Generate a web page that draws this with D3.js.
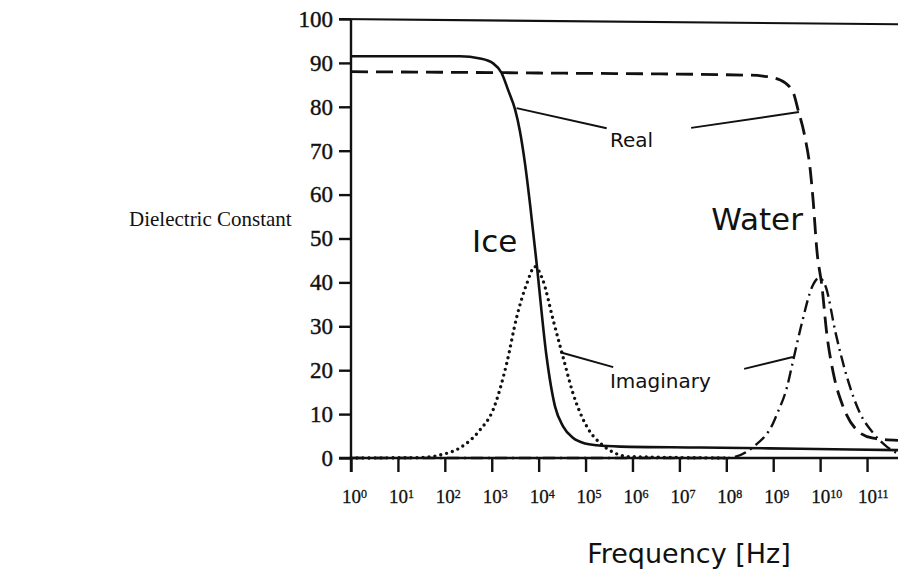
<!DOCTYPE html>
<html>
<head>
<meta charset="utf-8">
<style>
  body { margin: 0; background: #fff; }
  svg { display: block; }
</style>
</head>
<body>
<div id="chart"></div>
<script src="https://cdn.jsdelivr.net/npm/d3@7"></script>
<script>
// frequency given as log10(f) exponents, values are the dielectric constant
var iceRealExp   = [0, 2.32, 2.75, 3.03, 3.21, 3.35, 3.50, 3.60, 3.71, 3.82, 3.96, 4.17, 4.35, 4.52, 4.73, 4.99, 5.24, 5.74, 7.44, 9.57, 11.66]
var iceRealVal   = [91.5, 91.5, 91.0, 89.9, 87.7, 83.8, 79.3, 74.5, 67.0, 57.5, 44.0, 23.0, 11.7, 7.2, 4.6, 3.3, 2.9, 2.6, 2.4, 2.1, 1.8]

var iceImagExp   = [0, 1.5, 1.9, 2.32, 2.75, 3.03, 3.32, 3.53, 3.75, 3.92, 4.09, 4.31, 4.52, 4.73, 5.03, 5.31, 5.95, 8.0]
var iceImagVal   = [0, 0.1, 0.7, 2.3, 6.4, 11.0, 21.6, 32.0, 39.8, 43.6, 40.5, 31.4, 23.0, 14.8, 7.1, 3.4, 0.3, 0]

var waterRealExp = [0, 4.0, 8.5, 8.78, 9.15, 9.42, 9.53, 9.68, 9.79, 9.85, 9.93, 10.04, 10.14, 10.28, 10.49, 10.78, 11.13, 11.66]
var waterRealVal = [88.0, 87.7, 87.2, 87.0, 86.1, 83.4, 79.3, 72.9, 65.6, 58.8, 47.4, 39.0, 28.5, 19.4, 11.7, 6.4, 4.5, 4.0]

var waterImagExp = [0, 8.01, 8.57, 9.0, 9.08, 9.29, 9.42, 9.61, 9.83, 9.98, 10.12, 10.33, 10.57, 10.85, 11.13, 11.42, 11.66]
var waterImagVal = [0, 0, 2.5, 8.0, 10.0, 16.0, 22.0, 30.7, 39.0, 41.0, 39.0, 28.5, 18.5, 10.2, 5.7, 2.6, 1.0]

var xTickExp = [0, 1, 2, 3, 4, 5, 6, 7, 8, 9, 10, 11]
var yTicks   = [0, 10, 20, 30, 40, 50, 60, 70, 80, 90, 100]

// label leader lines: [exp, value] pairs
var leaders = [
  [[3.53, 79.7], [5.45, 75.1]],
  [[7.25, 75.2], [9.55, 78.8]],
  [[4.46, 24.1], [5.59, 20.7]],
  [[8.38, 20.3], [9.42, 23.0]]
]

var notes = [
  {text: "Real",      exp: 5.52, val: 70.8, size: 20},
  {text: "Imaginary", exp: 5.52, val: 16.0, size: 20},
  {text: "Ice",       exp: 2.58, val: 47.0, size: 31},
  {text: "Water",     exp: 7.68, val: 52.0, size: 31}
]

var W = 898, H = 583

var svg = d3.select("#chart").append("svg")
  .attr("width", W).attr("height", H)

var x = d3.scaleLog().domain([1, Math.pow(10, 11.66)]).range([351, 898])
var y = d3.scaleLinear().domain([0, 100]).range([458, 19])

var toPts = function(ex, vals){ return ex.map(function(e, i){ return [Math.pow(10, e), vals[i]] }) }

// axes
var yAxis = d3.axisLeft(y).tickValues(yTicks).tickSize(12).tickSizeOuter(0).tickPadding(6)
var gy = svg.append("g").attr("transform", "translate(351,0)").call(yAxis)
gy.selectAll("text")
  .style("font-family", "'Liberation Serif', serif").style("font-size", "23px")
  .attr("fill", "#111").attr("stroke", "#111").attr("stroke-width", 0.4)

var xAxis = d3.axisBottom(x).tickValues(xTickExp.map(function(e){ return Math.pow(10, e) })).tickSize(14).tickSizeOuter(0).tickPadding(18)
var gx = svg.append("g").attr("transform", "translate(0,458)").call(xAxis)
gx.selectAll(".tick text")
  .style("font-family", "'Liberation Serif', serif").style("font-size", "19px")
  .attr("fill", "#111").attr("stroke", "#111").attr("stroke-width", 0.3)
  .attr("text-anchor", "start").attr("dx", "-0.5em")
  .text("10")
  .append("tspan").attr("dy", "-0.45em").style("font-size", "12px")
  .text(function(d, i){ return xTickExp[i] })

svg.selectAll(".domain, .tick line").attr("stroke", "#111").attr("stroke-width", 2.4)
// stretch the x axis line left to the zero tick
gx.select(".domain").attr("d", "M339,0H898")
gy.select(".domain").attr("d", "M0,19V472")

// top frame line
svg.append("line")
  .attr("x1", 339).attr("x2", 898)
  .attr("y1", y(100)).attr("y2", y(98.8))
  .attr("stroke", "#111").attr("stroke-width", 2.2)

var line = d3.line().x(function(d){ return x(d[0]) }).y(function(d){ return y(d[1]) }).curve(d3.curveMonotoneX)

var series = [
  {pts: toPts(iceRealExp, iceRealVal),     dash: null,        w: 2.6, cap: "butt"},
  {pts: toPts(iceImagExp, iceImagVal),     dash: "0,6",       w: 3.4, cap: "round"},
  {pts: toPts(waterRealExp, waterRealVal), dash: "17,8",      w: 2.8, cap: "butt"},
  {pts: toPts(waterImagExp, waterImagVal), dash: "12,5,2,5",  w: 2.4, cap: "butt"}
]

svg.selectAll("path.curve")
  .data(series)
  .enter()
  .append("path")
  .attr("class", "curve")
  .attr("fill", "none")
  .attr("stroke", "#111")
  .attr("stroke-width", function(d){ return d.w })
  .attr("stroke-linecap", function(d){ return d.cap })
  .attr("stroke-dasharray", function(d){ return d.dash })
  .attr("d", function(d){ return line(d.pts) })

// leader lines
svg.selectAll("line.leader")
  .data(leaders)
  .enter()
  .append("line")
  .attr("class", "leader")
  .attr("x1", function(d){ return x(Math.pow(10, d[0][0])) })
  .attr("y1", function(d){ return y(d[0][1]) })
  .attr("x2", function(d){ return x(Math.pow(10, d[1][0])) })
  .attr("y2", function(d){ return y(d[1][1]) })
  .attr("stroke", "#111").attr("stroke-width", 2)

svg.selectAll("text.note")
  .data(notes)
  .enter()
  .append("text")
  .attr("class", "note")
  .attr("x", function(d){ return x(Math.pow(10, d.exp)) })
  .attr("y", function(d){ return y(d.val) })
  .style("font-family", "'DejaVu Sans', Verdana, sans-serif")
  .style("font-size", function(d){ return d.size + "px" })
  .attr("fill", "#111")
  .text(function(d){ return d.text })

// axis titles
svg.append("text").attr("x", 129).attr("y", 226)
  .style("font-family", "'Liberation Serif', serif").style("font-size", "21px")
  .attr("fill", "#111")
  .text("Dielectric Constant")

svg.append("text").attr("x", 689).attr("y", 563)
  .attr("text-anchor", "middle")
  .style("font-family", "'DejaVu Sans', Verdana, sans-serif").style("font-size", "27px")
  .attr("fill", "#111")
  .text("Frequency [Hz]")
</script>
</body>
</html>
